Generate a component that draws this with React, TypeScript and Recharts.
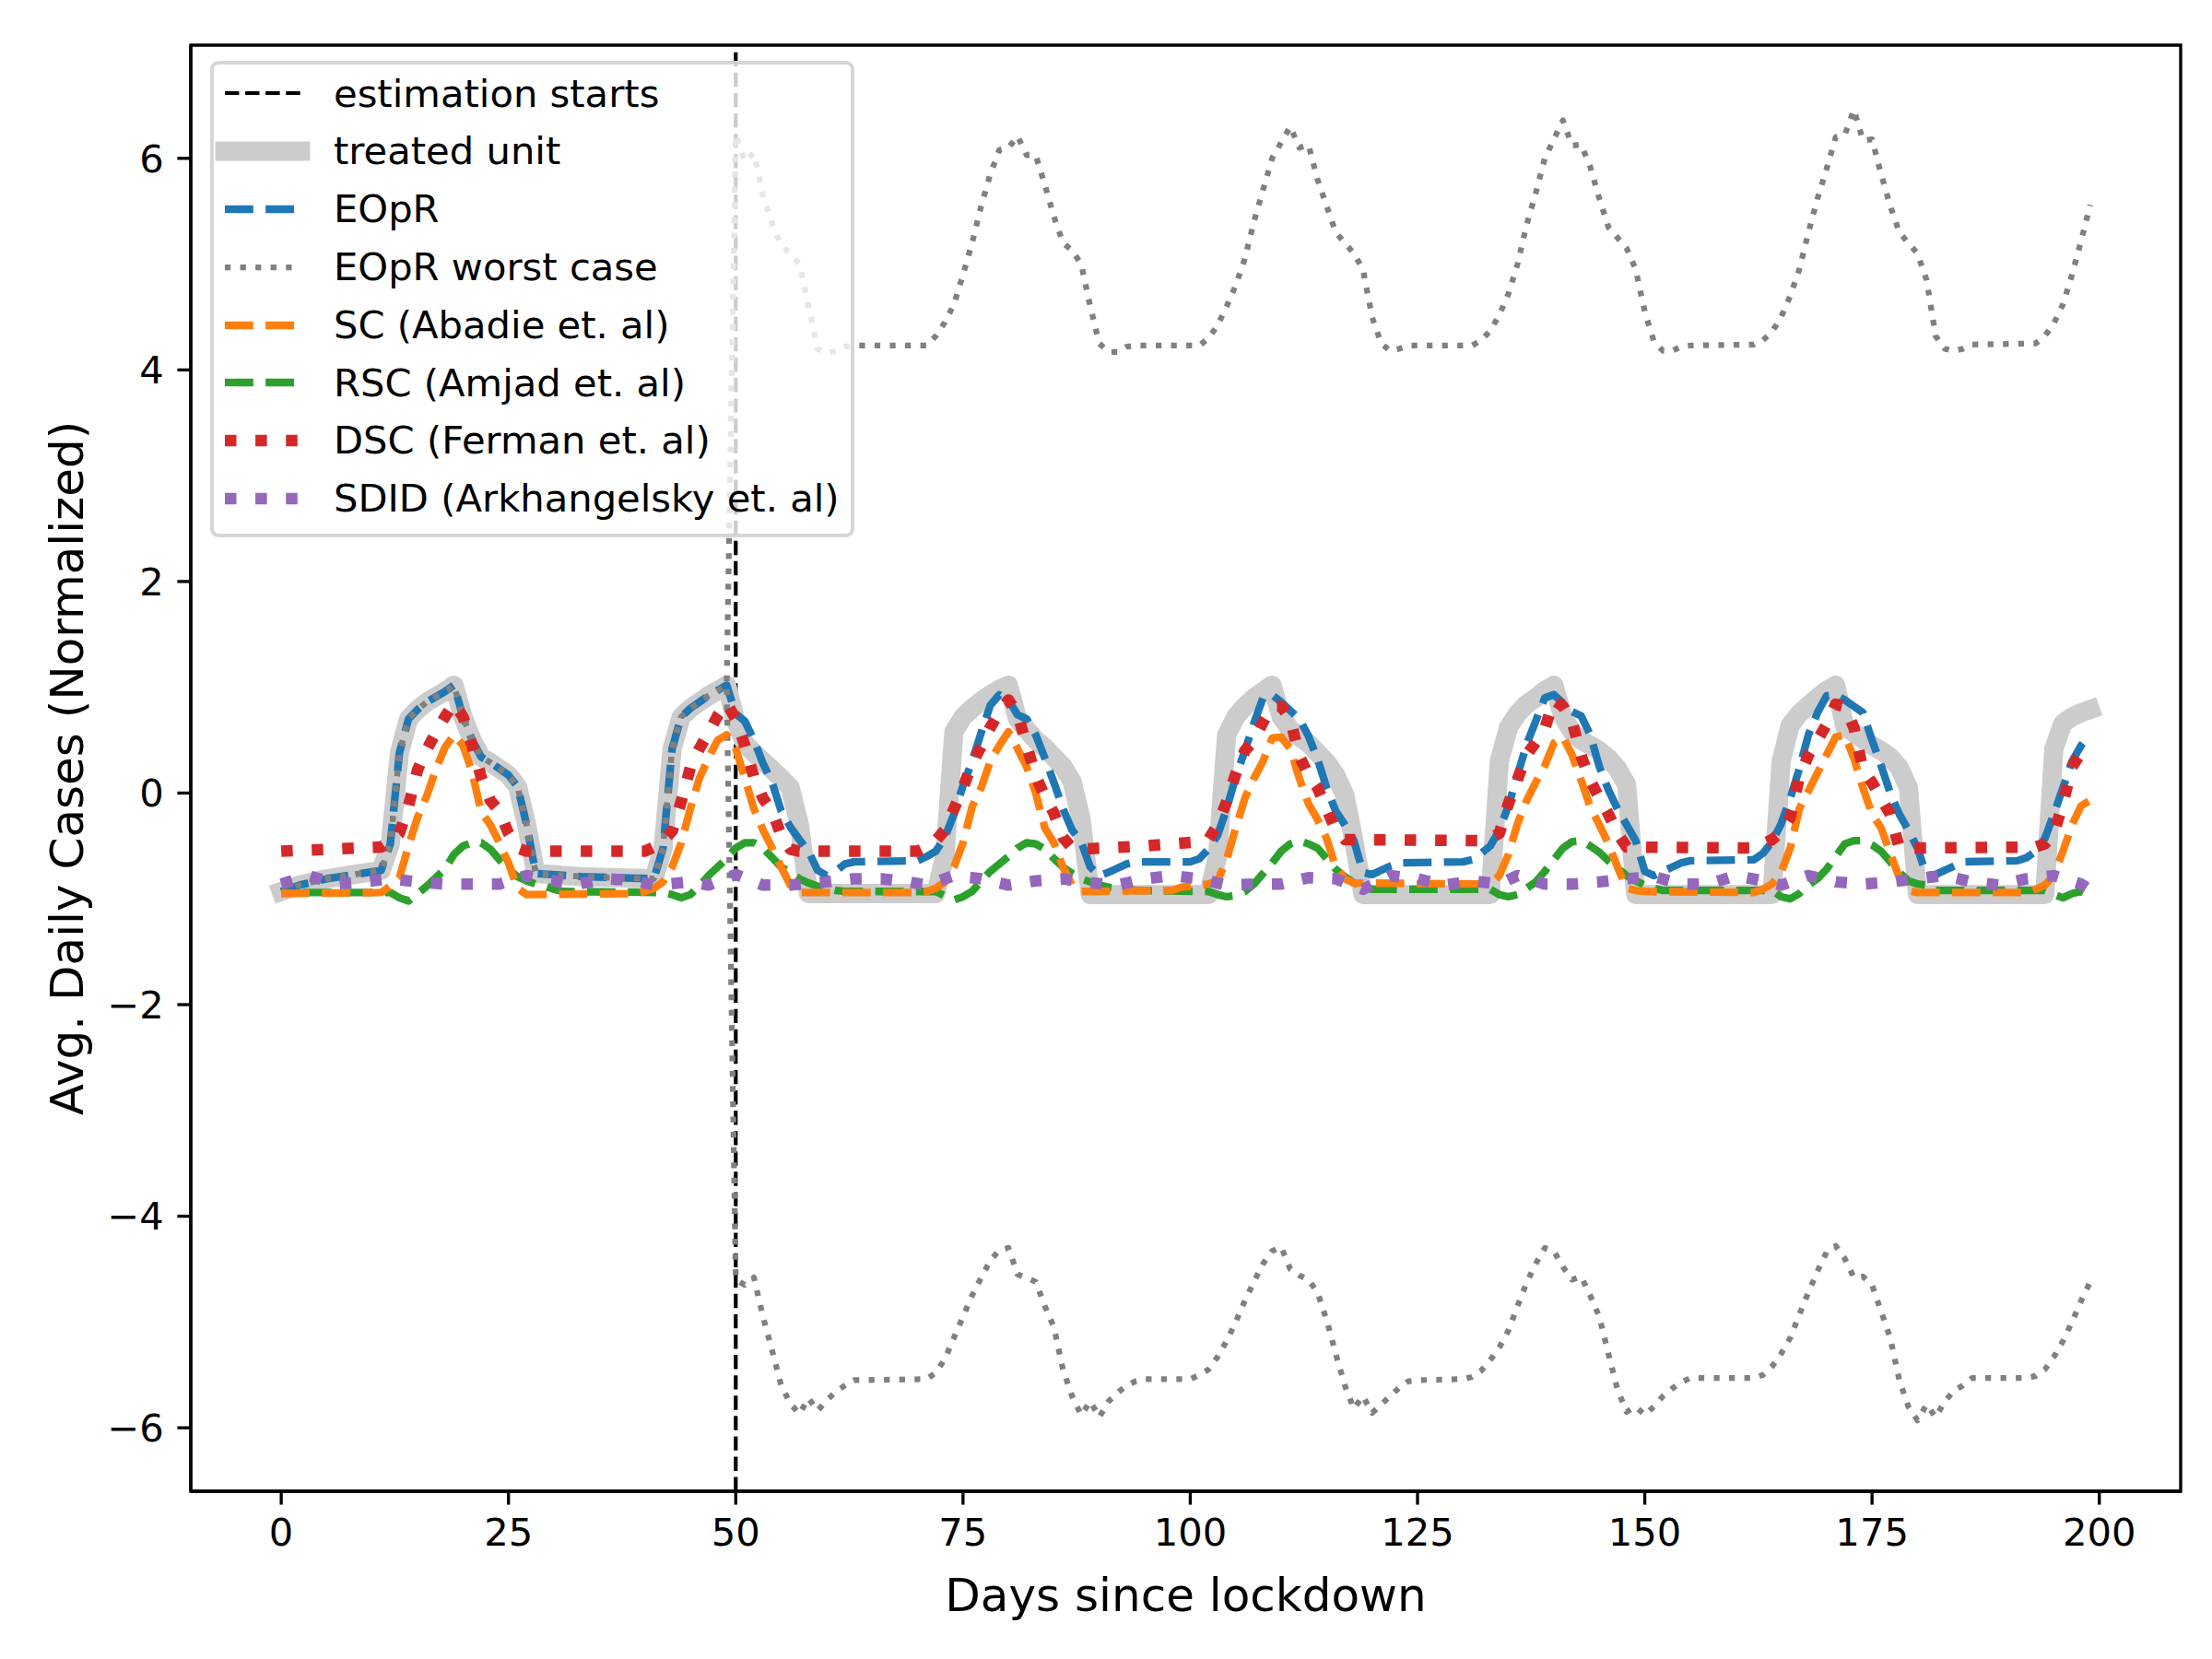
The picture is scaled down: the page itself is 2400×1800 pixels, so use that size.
import { LineChart, Line, XAxis, YAxis, ReferenceLine, ReferenceArea, Legend, Label } from 'recharts';

type Pt = [number, number];

// ---- values (day, value) ----
const xTicks = [0, 25, 50, 75, 100, 125, 150, 175, 200];
const yTicks = [-6, -4, -2, 0, 2, 4, 6];
const estimationStart = 50;

// treated unit, pre-period (EOpR and the worst-case bounds sit on it here)
const treatedPre: Pt[] = [
  [0, -0.93], [2, -0.87], [5, -0.81], [8, -0.77], [11, -0.73], [12, -0.48], [13, 0.38], [14, 0.7],
  [15, 0.79], [16, 0.86], [17, 0.91], [18, 0.96], [19, 1.02], [20, 0.72], [21, 0.5], [22, 0.34],
  [23, 0.29], [24, 0.23], [25, 0.17], [26, 0.06], [27, -0.3], [28, -0.76], [33, -0.79], [37, -0.8],
  [41, -0.81], [42, -0.52], [43, 0.42], [44, 0.72], [45, 0.8], [46, 0.86], [47, 0.92], [48, 0.97],
  [49, 1.02],
];

const treatedPost: Pt[] = [
  [50, 0.68], [51, 0.47], [52, 0.38], [53, 0.3], [54, 0.22], [55, 0.14], [56, 0.05], [57, -0.3],
  [58, -0.95], [72, -0.95], [73, -0.6], [74, 0.58], [75, 0.72], [76, 0.8], [77, 0.87], [78, 0.93],
  [79, 0.98], [80, 1.02], [81, 0.7], [82, 0.6], [83, 0.5], [84, 0.43], [85, 0.34], [86, 0.25],
  [87, 0.11], [88, -0.25], [89, -0.96], [102, -0.96], [103, -0.6], [104, 0.55], [105, 0.72],
  [106, 0.82], [107, 0.9], [108, 0.96], [109, 1.02], [110, 0.72], [111, 0.6], [112, 0.53],
  [113, 0.47], [114, 0.38], [115, 0.29], [116, 0.17], [117, -0.02], [118, -0.45], [119, -0.96],
  [133, -0.96], [134, 0.3], [135, 0.62], [136, 0.75], [137, 0.84], [138, 0.9], [139, 0.97],
  [140, 1.02], [141, 0.72], [142, 0.58], [143, 0.5], [144, 0.45], [145, 0.4], [146, 0.33],
  [147, 0.23], [148, 0.08], [149, -0.96], [164, -0.96], [165, 0.3], [166, 0.64], [167, 0.75],
  [168, 0.83], [169, 0.9], [170, 0.97], [171, 1.02], [172, 0.63], [173, 0.57], [174, 0.51],
  [175, 0.45], [176, 0.4], [177, 0.34], [178, 0.24], [179, 0.05], [180, -0.96], [194, -0.96],
  [195, 0.42], [196, 0.66], [197, 0.72], [198, 0.76], [199, 0.79],
];

const eoprPost: Pt[] = [
  [50, 0.75], [51, 0.68], [52, 0.5], [53, 0.28], [54, 0.1], [55, -0.17], [56, -0.32], [57, -0.44],
  [58, -0.55], [59, -0.73], [60, -0.78], [61, -0.74], [62, -0.67], [63, -0.65], [70, -0.64],
  [71, -0.6], [72, -0.55], [73, -0.42], [74, -0.2], [75, 0.07], [76, 0.3], [77, 0.57], [78, 0.83],
  [79, 0.93], [80, 0.88], [81, 0.74], [82, 0.7], [83, 0.55], [84, 0.33], [85, 0.1], [86, -0.15],
  [87, -0.35], [88, -0.46], [89, -0.7], [90, -0.78], [91, -0.75], [92, -0.71], [93, -0.67],
  [94, -0.65], [100, -0.65], [101, -0.62], [102, -0.53], [103, -0.4], [104, -0.15], [105, 0.15],
  [106, 0.4], [107, 0.66], [108, 0.9], [109, 0.93], [110, 0.86], [111, 0.78], [112, 0.7],
  [113, 0.54], [114, 0.32], [115, 0.05], [116, -0.17], [117, -0.3], [118, -0.45], [119, -0.75],
  [120, -0.77], [121, -0.73], [122, -0.69], [123, -0.66], [130, -0.65], [131, -0.63], [132, -0.57],
  [133, -0.5], [134, -0.35], [135, -0.12], [136, 0.17], [137, 0.46], [138, 0.68], [139, 0.9],
  [140, 0.93], [141, 0.85], [142, 0.77], [143, 0.73], [144, 0.55], [145, 0.25], [146, 0.03],
  [147, -0.15], [148, -0.3], [149, -0.45], [150, -0.74], [151, -0.78], [152, -0.74], [153, -0.7],
  [154, -0.66], [155, -0.64], [162, -0.63], [163, -0.57], [164, -0.46], [165, -0.29], [166, -0.05],
  [167, 0.23], [168, 0.55], [169, 0.76], [170, 0.92], [171, 0.93], [172, 0.88], [173, 0.82],
  [174, 0.76], [175, 0.5], [176, 0.26], [177, 0.0], [178, -0.2], [179, -0.35], [180, -0.52],
  [181, -0.78], [182, -0.77], [183, -0.73], [184, -0.69], [185, -0.65], [191, -0.64], [192, -0.61],
  [193, -0.55], [194, -0.43], [195, -0.2], [196, 0.05], [197, 0.3], [198, 0.45], [199, 0.55],
];

const worstUpperPost: Pt[] = [
  [50, 6.22], [51, 5.97], [52, 6.05], [53, 5.65], [54, 5.38], [55, 5.18], [56, 5.1], [57, 5.0],
  [58, 4.6], [59, 4.2], [60, 4.16], [61, 4.18], [62, 4.22], [63, 4.23], [71, 4.23], [72, 4.32],
  [73, 4.45], [74, 4.62], [75, 4.9], [76, 5.2], [77, 5.55], [78, 5.85], [79, 6.08], [80, 6.1],
  [81, 6.21], [82, 6.03], [83, 6.03], [84, 5.75], [85, 5.45], [86, 5.2], [87, 5.13], [88, 5.0],
  [89, 4.6], [90, 4.25], [91, 4.17], [92, 4.17], [93, 4.22], [94, 4.23], [101, 4.23], [102, 4.3],
  [103, 4.42], [104, 4.6], [105, 4.8], [106, 5.05], [107, 5.4], [108, 5.7], [109, 6.0], [110, 6.15],
  [111, 6.3], [112, 6.1], [113, 6.13], [114, 5.8], [115, 5.55], [116, 5.3], [117, 5.2], [118, 5.1],
  [119, 4.95], [120, 4.5], [121, 4.25], [122, 4.18], [123, 4.2], [124, 4.23], [131, 4.23],
  [132, 4.28], [133, 4.37], [134, 4.52], [135, 4.72], [136, 5.0], [137, 5.37], [138, 5.67],
  [139, 6.0], [140, 6.18], [141, 6.36], [142, 6.12], [143, 6.13], [144, 5.92], [145, 5.62],
  [146, 5.35], [147, 5.25], [148, 5.15], [149, 4.95], [150, 4.55], [151, 4.27], [152, 4.18],
  [153, 4.18], [154, 4.22], [155, 4.23], [162, 4.24], [163, 4.28], [164, 4.36], [165, 4.5],
  [166, 4.7], [167, 4.95], [168, 5.3], [169, 5.62], [170, 5.9], [171, 6.2], [172, 6.22], [173, 6.46],
  [174, 6.17], [175, 6.18], [176, 5.85], [177, 5.55], [178, 5.3], [179, 5.2], [180, 5.1], [181, 4.85],
  [182, 4.32], [183, 4.2], [184, 4.18], [185, 4.2], [186, 4.24], [193, 4.25], [194, 4.32],
  [195, 4.44], [196, 4.62], [197, 4.9], [198, 5.22], [199, 5.56],
];

const worstLowerPost: Pt[] = [
  [50, -4.6], [51, -4.65], [52, -4.58], [53, -4.95], [54, -5.27], [55, -5.6], [56, -5.77],
  [57, -5.87], [58, -5.72], [59, -5.84], [60, -5.74], [61, -5.66], [62, -5.6], [63, -5.55],
  [71, -5.54], [72, -5.48], [73, -5.35], [74, -5.15], [75, -4.95], [76, -4.75], [77, -4.58],
  [78, -4.42], [79, -4.32], [80, -4.3], [81, -4.55], [82, -4.58], [83, -4.62], [84, -4.85],
  [85, -5.05], [86, -5.45], [87, -5.7], [88, -5.88], [89, -5.75], [90, -5.9], [91, -5.75],
  [92, -5.67], [93, -5.6], [94, -5.56], [95, -5.54], [100, -5.54], [101, -5.5], [102, -5.45],
  [103, -5.33], [104, -5.18], [105, -5.0], [106, -4.8], [107, -4.62], [108, -4.45], [109, -4.33],
  [110, -4.29], [111, -4.5], [112, -4.56], [113, -4.6], [114, -4.72], [115, -4.98], [116, -5.3],
  [117, -5.6], [118, -5.82], [119, -5.7], [120, -5.86], [121, -5.78], [122, -5.7], [123, -5.62],
  [124, -5.56], [125, -5.55], [130, -5.54], [131, -5.52], [132, -5.46], [133, -5.36], [134, -5.24],
  [135, -5.08], [136, -4.85], [137, -4.63], [138, -4.45], [139, -4.3], [140, -4.33], [141, -4.48],
  [142, -4.6], [143, -4.57], [144, -4.75], [145, -4.95], [146, -5.3], [147, -5.64], [148, -5.85],
  [149, -5.8], [150, -5.88], [151, -5.8], [152, -5.7], [153, -5.63], [154, -5.57], [155, -5.53],
  [162, -5.53], [163, -5.5], [164, -5.42], [165, -5.3], [166, -5.15], [167, -4.93], [168, -4.72],
  [169, -4.52], [170, -4.34], [171, -4.28], [172, -4.4], [173, -4.58], [174, -4.57], [175, -4.65],
  [176, -4.9], [177, -5.15], [178, -5.55], [179, -5.8], [180, -5.93], [181, -5.78], [182, -5.9],
  [183, -5.75], [184, -5.65], [185, -5.6], [186, -5.53], [192, -5.53], [193, -5.51], [194, -5.45],
  [195, -5.33], [196, -5.18], [197, -5.0], [198, -4.8], [199, -4.62],
];

const scAbadie: Pt[] = [
  [0, -0.95], [11, -0.94], [12, -0.88], [13, -0.8], [14, -0.5], [15, -0.23], [16, -0.03], [17, 0.22],
  [18, 0.43], [19, 0.55], [20, 0.45], [21, 0.2], [22, -0.18], [23, -0.3], [24, -0.47], [25, -0.66],
  [26, -0.9], [27, -0.96], [39, -0.95], [40, -0.93], [41, -0.9], [42, -0.84], [43, -0.7], [44, -0.47],
  [45, -0.15], [46, 0.14], [47, 0.33], [48, 0.5], [49, 0.55], [50, 0.42], [51, 0.14], [52, -0.15],
  [53, -0.35], [54, -0.52], [55, -0.7], [56, -0.87], [57, -0.94], [70, -0.94], [71, -0.93],
  [72, -0.9], [73, -0.84], [74, -0.7], [75, -0.47], [76, -0.13], [77, 0.05], [78, 0.3], [79, 0.45],
  [80, 0.58], [81, 0.42], [82, 0.25], [83, 0.0], [84, -0.33], [85, -0.47], [86, -0.7], [87, -0.87],
  [88, -0.93], [98, -0.92], [99, -0.89], [102, -0.86], [103, -0.83], [104, -0.63], [105, -0.33],
  [106, -0.05], [107, 0.14], [108, 0.3], [109, 0.52], [110, 0.53], [111, 0.42], [112, 0.14],
  [113, -0.1], [114, -0.25], [115, -0.43], [116, -0.7], [117, -0.81], [118, -0.85], [133, -0.86],
  [134, -0.78], [135, -0.58], [136, -0.29], [137, -0.07], [138, 0.1], [139, 0.26], [140, 0.47],
  [141, 0.53], [142, 0.36], [143, 0.12], [144, -0.13], [145, -0.3], [146, -0.48], [147, -0.7],
  [148, -0.9], [149, -0.92], [150, -0.93], [162, -0.94], [163, -0.91], [164, -0.86], [165, -0.75],
  [166, -0.52], [167, -0.15], [168, 0.02], [169, 0.19], [170, 0.36], [171, 0.53], [172, 0.55],
  [173, 0.33], [174, 0.05], [175, -0.2], [176, -0.33], [177, -0.57], [178, -0.8], [179, -0.92],
  [180, -0.94], [192, -0.94], [193, -0.91], [194, -0.87], [195, -0.78], [196, -0.55], [197, -0.3],
  [198, -0.12], [199, -0.07],
];

const rscAmjad: Pt[] = [
  [0, -0.94], [12, -0.94], [13, -0.99], [14, -1.02], [15, -0.95], [16, -0.88], [17, -0.8],
  [18, -0.72], [19, -0.58], [20, -0.5], [21, -0.47], [22, -0.47], [23, -0.53], [24, -0.63],
  [25, -0.72], [26, -0.79], [27, -0.83], [28, -0.86], [29, -0.88], [30, -0.91], [31, -0.93],
  [42, -0.94], [43, -0.96], [44, -0.99], [45, -0.96], [46, -0.88], [47, -0.78], [48, -0.7],
  [49, -0.62], [50, -0.52], [51, -0.47], [52, -0.47], [53, -0.52], [54, -0.61], [55, -0.7],
  [56, -0.75], [57, -0.81], [58, -0.85], [59, -0.88], [60, -0.9], [61, -0.92], [62, -0.93],
  [72, -0.93], [73, -0.97], [74, -1.01], [75, -0.98], [76, -0.93], [77, -0.83], [78, -0.74],
  [79, -0.67], [80, -0.6], [81, -0.52], [82, -0.47], [83, -0.48], [84, -0.53], [85, -0.62],
  [86, -0.7], [87, -0.76], [88, -0.81], [89, -0.84], [90, -0.87], [91, -0.89], [92, -0.9],
  [93, -0.91], [94, -0.92], [102, -0.93], [103, -0.96], [104, -0.98], [105, -0.97], [106, -0.93],
  [107, -0.86], [108, -0.76], [109, -0.66], [110, -0.55], [111, -0.48], [112, -0.45], [113, -0.48],
  [114, -0.52], [115, -0.62], [116, -0.72], [117, -0.79], [118, -0.85], [119, -0.87], [120, -0.91],
  [133, -0.91], [134, -0.96], [135, -0.98], [136, -0.96], [137, -0.9], [138, -0.84], [139, -0.74],
  [140, -0.63], [141, -0.52], [142, -0.46], [143, -0.45], [144, -0.5], [145, -0.56], [146, -0.64],
  [147, -0.71], [148, -0.78], [149, -0.83], [150, -0.87], [151, -0.9], [152, -0.92], [164, -0.92],
  [165, -0.98], [166, -1.0], [167, -0.95], [168, -0.87], [169, -0.81], [170, -0.72], [171, -0.6],
  [172, -0.48], [173, -0.45], [174, -0.45], [175, -0.49], [176, -0.55], [177, -0.65], [178, -0.75],
  [179, -0.83], [180, -0.86], [181, -0.87], [182, -0.92], [194, -0.92], [195, -0.96], [196, -0.99],
  [197, -0.95], [198, -0.93], [199, -0.98],
];

const dscFerman: Pt[] = [
  [0, -0.55], [11, -0.51], [12, -0.45], [13, -0.38], [14, -0.12], [15, 0.22], [16, 0.41], [17, 0.57],
  [18, 0.72], [19, 0.85], [20, 0.72], [21, 0.45], [22, 0.15], [23, -0.07], [24, -0.17], [25, -0.38],
  [26, -0.52], [27, -0.55], [40, -0.55], [41, -0.51], [42, -0.45], [43, -0.36], [44, -0.08],
  [45, 0.24], [46, 0.42], [47, 0.57], [48, 0.73], [49, 0.85], [50, 0.7], [51, 0.45], [52, 0.15],
  [53, -0.05], [54, -0.17], [55, -0.4], [56, -0.53], [57, -0.55], [70, -0.55], [71, -0.51],
  [72, -0.45], [73, -0.35], [74, -0.15], [75, 0.05], [76, 0.28], [77, 0.44], [78, 0.62], [79, 0.77],
  [80, 0.88], [81, 0.75], [82, 0.45], [83, 0.16], [84, -0.03], [85, -0.19], [86, -0.42], [87, -0.52],
  [88, -0.53], [95, -0.5], [101, -0.46], [102, -0.44], [103, -0.3], [104, -0.08], [105, 0.18],
  [106, 0.4], [107, 0.5], [108, 0.67], [109, 0.82], [110, 0.82], [111, 0.7], [112, 0.35], [113, 0.17],
  [114, 0.05], [115, -0.15], [116, -0.35], [117, -0.44], [132, -0.45], [133, -0.43], [134, -0.38],
  [135, -0.1], [136, 0.13], [137, 0.36], [138, 0.48], [139, 0.61], [140, 0.88], [141, 0.82],
  [142, 0.68], [143, 0.35], [144, 0.12], [145, -0.05], [146, -0.2], [147, -0.38], [148, -0.51],
  [162, -0.52], [163, -0.48], [164, -0.44], [165, -0.37], [166, -0.23], [167, 0.15], [168, 0.36],
  [169, 0.5], [170, 0.65], [171, 0.84], [172, 0.82], [173, 0.62], [174, 0.22], [175, 0.1],
  [176, -0.05], [177, -0.2], [178, -0.52], [193, -0.51], [194, -0.48], [195, -0.38], [196, -0.1],
  [197, 0.25], [198, 0.38], [199, 0.3],
];

const sdidArkhangelsky: Pt[] = [
  [0, -0.86], [3, -0.78], [6, -0.86], [9, -0.84], [12, -0.81], [15, -0.84], [18, -0.86], [22, -0.86],
  [24, -0.86], [27, -0.78], [30, -0.83], [32, -0.87], [36, -0.81], [39, -0.83], [41, -0.87],
  [45, -0.84], [47, -0.87], [50, -0.77], [53, -0.87], [56, -0.87], [60, -0.84], [63, -0.81],
  [66, -0.81], [69, -0.84], [71, -0.87], [74, -0.78], [77, -0.81], [80, -0.87], [83, -0.83],
  [86, -0.81], [88, -0.84], [92, -0.87], [95, -0.81], [98, -0.78], [101, -0.81], [104, -0.87],
  [107, -0.86], [110, -0.86], [113, -0.8], [116, -0.81], [119, -0.91], [122, -0.78], [125, -0.81],
  [128, -0.87], [131, -0.83], [134, -0.86], [136, -0.78], [139, -0.86], [142, -0.86], [145, -0.84],
  [148, -0.81], [151, -0.79], [154, -0.86], [157, -0.86], [160, -0.78], [163, -0.83], [165, -0.87],
  [168, -0.78], [171, -0.84], [174, -0.86], [177, -0.84], [180, -0.81], [183, -0.78], [186, -0.84],
  [189, -0.87], [192, -0.81], [195, -0.78], [198, -0.86], [199, -0.92],
];

const FONT = 'DejaVu Sans, sans-serif';
const PT = 300 / 72; // px per point in the reference

const rows = (pts: Pt[]) => pts.map(([d, v]) => ({ d, v }));
const fmt = (v: number) => (v < 0 ? `\u2212${Math.abs(v)}` : `${v}`);

const treated = rows([...treatedPre, ...treatedPost]);
const eopr = rows([...treatedPre, ...eoprPost]);
const worstUpper = rows([...treatedPre, ...worstUpperPost]);
const worstLower = rows([...treatedPre, ...worstLowerPost]);

const dashed = `${7.4 * PT} ${3.2 * PT}`;
const dotted3 = `${3 * PT} ${4.95 * PT}`;
const dotted15 = `${1.5 * PT} ${2.475 * PT}`;
const vdash = `${3.7 * PT} ${1.6 * PT}`;

const legendItems = [
  { label: 'estimation starts', color: '#000000', w: 1 * PT, dash: vdash },
  { label: 'treated unit', color: '#cccccc', w: 5 * PT, cap: 'square' },
  { label: 'EOpR', color: '#1f77b4', w: 2 * PT, dash: dashed },
  { label: 'EOpR worst case', color: '#808080', w: 1.5 * PT, dash: dotted15 },
  { label: 'SC (Abadie et. al)', color: '#ff7f0e', w: 2 * PT, dash: dashed },
  { label: 'RSC (Amjad et. al)', color: '#2ca02c', w: 2 * PT, dash: dashed },
  { label: 'DSC (Ferman et. al)', color: '#d62728', w: 3 * PT, dash: dotted3 },
  { label: 'SDID (Arkhangelsky et. al)', color: '#9467bd', w: 3 * PT, dash: dotted3 },
];

function LegendBox() {
  return (
    <div
      style={{
        boxSizing: 'border-box',
        width: 699,
        height: 517,
        border: '4px solid rgba(204,204,204,0.8)',
        borderRadius: 9,
        background: 'rgba(255,255,255,0.8)',
        fontFamily: FONT,
      }}
    >
      {legendItems.map((it) => (
        <div key={it.label} style={{ height: 62.8, display: 'flex', alignItems: 'center' }}>
          <svg width={130} height={30} style={{ flex: 'none' }}>
            <line
              x1={12}
              x2={94}
              y1={15}
              y2={15}
              stroke={it.color}
              strokeWidth={it.w}
              strokeDasharray={it.dash}
              strokeLinecap={it.cap === 'square' ? 'square' : 'butt'}
            />
          </svg>
          <span style={{ fontSize: 41.7, lineHeight: 1, color: '#000', whiteSpace: 'nowrap' }}>{it.label}</span>
        </div>
      ))}
    </div>
  );
}

export default function App() {
  const tick = { fill: '#000', fontSize: 41.7, fontFamily: FONT };
  const axisStroke = { stroke: '#000', strokeWidth: 0.8 * PT };
  return (
    <div style={{ position: 'absolute', left: 0, top: 0, width: 2400, height: 1800, background: '#fff' }}>
      <LineChart width={2400} height={1800} margin={{ top: 49, right: 34, bottom: 0, left: 0 }} style={{ fontFamily: FONT }}>
        <XAxis
          dataKey="d"
          type="number"
          domain={[-9.95, 208.95]}
          ticks={xTicks}
          interval={0}
          allowDataOverflow
          height={182}
          tickSize={3.5 * PT}
          tickMargin={3.5 * PT}
          tick={tick}
          tickLine={axisStroke}
          axisLine={axisStroke}
        >
          <Label value="Days since lockdown" position="insideBottom" offset={52} fontSize={50} fill="#000" fontFamily={FONT} />
        </XAxis>
        <YAxis
          type="number"
          domain={[-6.6, 7.07]}
          ticks={yTicks}
          interval={0}
          allowDataOverflow
          width={207}
          tickSize={3.5 * PT}
          tickMargin={3.5 * PT}
          tick={tick}
          tickFormatter={fmt}
          tickLine={axisStroke}
          axisLine={axisStroke}
        >
          <Label
            value="Avg. Daily Cases (Normalized)"
            angle={-90}
            position="insideLeft"
            offset={72}
            fontSize={50}
            fill="#000"
            fontFamily={FONT}
            style={{ textAnchor: 'middle' }}
          />
        </YAxis>
        <ReferenceLine x={estimationStart} stroke="#000" strokeWidth={1 * PT} strokeDasharray={vdash} />
        <Line data={treated} dataKey="v" type="linear" stroke="#cccccc" strokeWidth={5 * PT} strokeLinecap="square" strokeLinejoin="round" dot={false} activeDot={false} isAnimationActive={false} />
        <Line data={eopr} dataKey="v" type="linear" stroke="#1f77b4" strokeWidth={2 * PT} strokeDasharray={dashed} strokeLinejoin="round" dot={false} activeDot={false} isAnimationActive={false} />
        <Line data={worstUpper} dataKey="v" type="linear" stroke="#808080" strokeWidth={1.5 * PT} strokeDasharray={dotted15} strokeLinejoin="round" dot={false} activeDot={false} isAnimationActive={false} />
        <Line data={worstLower} dataKey="v" type="linear" stroke="#808080" strokeWidth={1.5 * PT} strokeDasharray={dotted15} strokeLinejoin="round" dot={false} activeDot={false} isAnimationActive={false} />
        <Line data={rows(rscAmjad)} dataKey="v" type="linear" stroke="#2ca02c" strokeWidth={2 * PT} strokeDasharray={dashed} strokeDashoffset={20} strokeLinejoin="round" dot={false} activeDot={false} isAnimationActive={false} />
        <Line data={rows(scAbadie)} dataKey="v" type="linear" stroke="#ff7f0e" strokeWidth={2 * PT} strokeDasharray={dashed} strokeLinejoin="round" dot={false} activeDot={false} isAnimationActive={false} />
        <Line data={rows(dscFerman)} dataKey="v" type="linear" stroke="#d62728" strokeWidth={3 * PT} strokeDasharray={dotted3} strokeLinejoin="round" dot={false} activeDot={false} isAnimationActive={false} />
        <Line data={rows(sdidArkhangelsky)} dataKey="v" type="linear" stroke="#9467bd" strokeWidth={3 * PT} strokeDasharray={dotted3} strokeLinejoin="round" dot={false} activeDot={false} isAnimationActive={false} />
        <ReferenceArea x1={-9.95} x2={208.95} y1={-6.6} y2={7.07} fill="none" fillOpacity={0} stroke="#000" strokeWidth={0.8 * PT} />
        <Legend
          layout="vertical"
          align="center"
          verticalAlign="middle"
          content={() => <LegendBox />}
          wrapperStyle={{ left: 228, top: 66, width: 699, height: 517 }}
        />
      </LineChart>
    </div>
  );
}
